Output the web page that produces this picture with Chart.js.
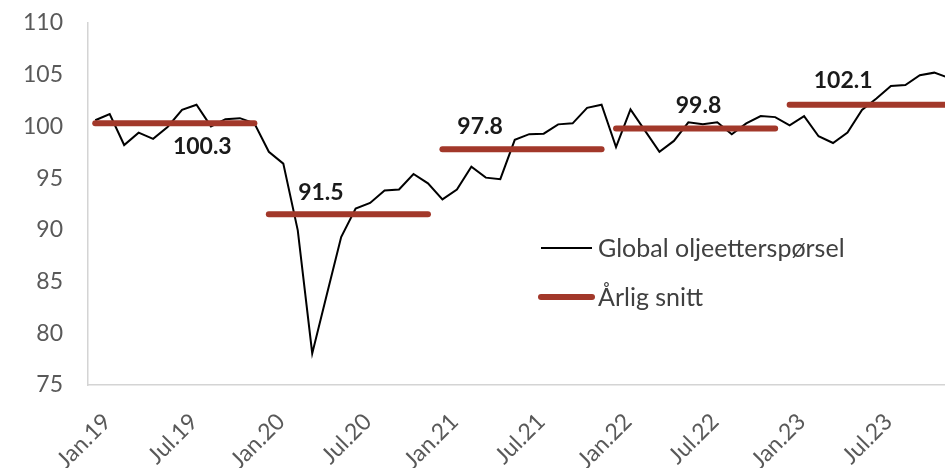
<!DOCTYPE html>
<html>
<head>
<meta charset="utf-8">
<script src="https://cdn.jsdelivr.net/npm/chart.js@4.4.1/dist/chart.umd.min.js"></script>
<style>
  html, body { margin: 0; padding: 0; background: #ffffff; overflow: hidden; }
  #wrap { width: 960px; height: 468px; }
</style>
</head>
<body>
<div id="wrap"><canvas id="c" width="960" height="468"></canvas></div>
<script>
// ---- data ----
const categories = [
  'Jan.19','Feb.19','Mar.19','Apr.19','Mai.19','Jun.19','Jul.19','Aug.19','Sep.19','Okt.19','Nov.19','Des.19',
  'Jan.20','Feb.20','Mar.20','Apr.20','Mai.20','Jun.20','Jul.20','Aug.20','Sep.20','Okt.20','Nov.20','Des.20',
  'Jan.21','Feb.21','Mar.21','Apr.21','Mai.21','Jun.21','Jul.21','Aug.21','Sep.21','Okt.21','Nov.21','Des.21',
  'Jan.22','Feb.22','Mar.22','Apr.22','Mai.22','Jun.22','Jul.22','Aug.22','Sep.22','Okt.22','Nov.22','Des.22',
  'Jan.23','Feb.23','Mar.23','Apr.23','Mai.23','Jun.23','Jul.23','Aug.23','Sep.23','Okt.23','Nov.23','Des.23'
];
const demand = [
  100.6, 101.2, 98.2, 99.4, 98.8, 99.95, 101.6, 102.1, 100.0, 100.7, 100.8, 100.3,
  97.55, 96.4, 89.95, 78.05, 83.7, 89.3, 92.05, 92.6, 93.8, 93.9, 95.4, 94.5,
  92.95, 93.9, 96.1, 95.05, 94.9, 98.7, 99.25, 99.3, 100.2, 100.3, 101.8, 102.1,
  98.0, 101.65, 99.6, 97.55, 98.6, 100.4, 100.2, 100.4, 99.25, 100.3, 101.0, 100.9,
  100.1, 101.0, 99.05, 98.4, 99.4, 101.6, 102.7, 103.9, 104.0, 104.95, 105.2, 104.7
];
const annualYears = ['2019', '2020', '2021', '2022', '2023'];
const annualAverage = [100.3, 91.5, 97.8, 99.8, 102.1];
const yTicks = [75, 80, 85, 90, 95, 100, 105, 110];
const seriesNames = ['Global oljeetterspørsel', 'Årlig snitt'];

// ---- derived ----
const monthsPerYear = 12;
const yearOf = i => Math.floor(i / monthsPerYear);
const averageSeries = categories.map((c, i) => annualAverage[yearOf(i)]);

const RED = '#A2382A';
const FONT = 'Lato, "Open Sans", sans-serif';

const avgLabelPlugin = {
  id: 'avgLabels',
  afterDatasetsDraw(chart, args, opts) {
    const ctx = chart.ctx;
    const xs = chart.scales.x, ys = chart.scales.y;
    ctx.save();
    ctx.font = 'bold 23px ' + FONT;
    ctx.fillStyle = '#1a1a1a';
    ctx.textAlign = 'center';
    ctx.textBaseline = 'middle';
    annualAverage.forEach((v, k) => {
      const x = xs.getPixelForValue(opts.anchor[k]);
      const y = ys.getPixelForValue(v) + opts.dy[k];
      ctx.fillText(v.toFixed(1), x, y);
    });
    ctx.restore();
  }
};

const legendPlugin = {
  id: 'customLegend',
  afterDraw(chart, args, opts) {
    const ctx = chart.ctx;
    ctx.save();
    ctx.font = '25px ' + FONT;
    ctx.textBaseline = 'middle';
    ctx.textAlign = 'left';
    chart.data.datasets.forEach((ds, k) => {
      const y = opts.y[k];
      ctx.beginPath();
      ctx.strokeStyle = ds.legendColor;
      ctx.lineWidth = ds.borderWidth;
      ctx.lineCap = ds.borderCapStyle || 'butt';
      ctx.moveTo(opts.x, y);
      ctx.lineTo(opts.x + opts.len, y);
      ctx.stroke();
      ctx.fillStyle = '#404040';
      ctx.fillText(ds.label, opts.x + opts.len + opts.gap, y + 1);
    });
    ctx.restore();
  }
};

new Chart(document.getElementById('c'), {
  type: 'line',
  data: {
    labels: categories,
    datasets: [
      {
        label: seriesNames[0],
        data: demand,
        borderColor: '#000000',
        legendColor: '#000000',
        borderWidth: 2,
        pointRadius: 0,
        tension: 0,
        order: 1
      },
      {
        label: seriesNames[1],
        data: averageSeries,
        borderColor: RED,
        legendColor: RED,
        borderWidth: 6,
        borderCapStyle: 'round',
        pointRadius: 0,
        tension: 0,
        order: 0,
        segment: {
          borderColor: c => yearOf(c.p0DataIndex) !== yearOf(c.p1DataIndex) ? 'rgba(0,0,0,0)' : RED
        }
      }
    ]
  },
  options: {
    responsive: false,
    animation: false,
    devicePixelRatio: 1,
    layout: { padding: { top: 23, right: 4, bottom: 0, left: 0 } },
    plugins: {
      legend: { display: false },
      tooltip: { enabled: false },
      avgLabels: { anchor: [7.4, 15.6, 26.6, 41.7, 51.7], dy: [23, -22, -23, -23, -24] },
      customLegend: { x: 541, y: [248, 297], len: 51, gap: 6 }
    },
    scales: {
      x: {
        type: 'category',
        offset: true,
        grid: { display: false, drawTicks: false, tickLength: 0 },
        border: { display: true, color: '#d4d4d4', width: 1.5 },
        ticks: {
          autoSkip: false,
          minRotation: 45,
          maxRotation: 45,
          padding: 23,
          labelOffset: 12,
          color: '#595959',
          font: { family: FONT, size: 23 },
          callback: function (value, index) {
            return index % 6 === 0 ? this.getLabelForValue(value) : '';
          }
        },
        afterFit: s => { s.height = 83; s.paddingLeft = 0; s.paddingRight = 0; }
      },
      y: {
        min: 75,
        max: 110,
        grid: { display: false, drawTicks: false, tickLength: 0 },
        border: { display: true, color: '#d4d4d4', width: 1.5 },
        afterBuildTicks: s => { s.ticks = yTicks.map(v => ({ value: v })); },
        ticks: {
          padding: 25,
          color: '#595959',
          font: { family: FONT, size: 23 }
        },
        afterFit: s => { s.width = 88; s.paddingTop = 0; s.paddingBottom = 0; }
      }
    }
  },
  plugins: [avgLabelPlugin, legendPlugin]
});
</script>
</body>
</html>
